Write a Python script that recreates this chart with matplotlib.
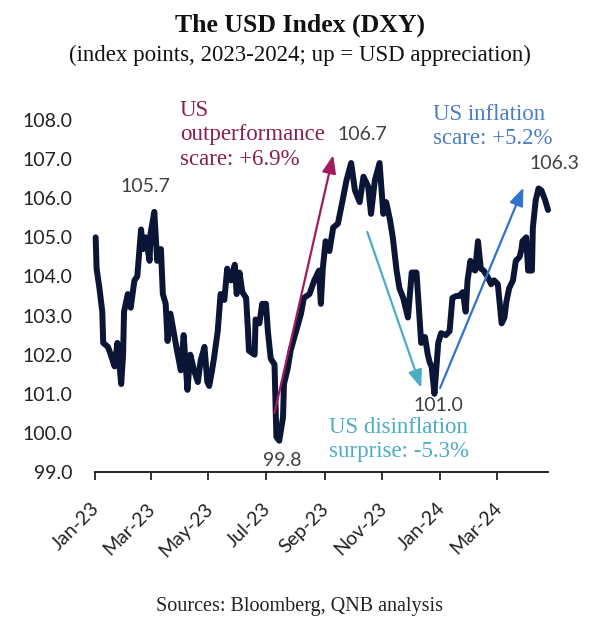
import matplotlib
matplotlib.use("Agg")
import matplotlib.pyplot as plt
import matplotlib.dates as mdates
from matplotlib.transforms import ScaledTranslation
import pandas as pd

# ---------------- data ----------------
dates = [
    "2023-01-02", "2023-01-03", "2023-01-06", "2023-01-09", "2023-01-10", "2023-01-15",
    "2023-01-18", "2023-01-22", "2023-01-25", "2023-01-29", "2023-01-31", "2023-02-01",
    "2023-02-05", "2023-02-08", "2023-02-12", "2023-02-15", "2023-02-19", "2023-02-21",
    "2023-02-24", "2023-02-28", "2023-03-01", "2023-03-05", "2023-03-08", "2023-03-12",
    "2023-03-14", "2023-03-17", "2023-03-19", "2023-03-22", "2023-03-26", "2023-03-29",
    "2023-04-02", "2023-04-05", "2023-04-09", "2023-04-12", "2023-04-16", "2023-04-20",
    "2023-04-23", "2023-04-27", "2023-04-30", "2023-05-02", "2023-05-05", "2023-05-07",
    "2023-05-11", "2023-05-14", "2023-05-18", "2023-05-21", "2023-05-25", "2023-05-29",
    "2023-05-31", "2023-06-03", "2023-06-06", "2023-06-10", "2023-06-12", "2023-06-13",
    "2023-06-19", "2023-06-20", "2023-06-24", "2023-06-27", "2023-07-01", "2023-07-03",
    "2023-07-06", "2023-07-10", "2023-07-12", "2023-07-15", "2023-07-19", "2023-07-20",
    "2023-07-24", "2023-07-27", "2023-07-31", "2023-08-03", "2023-08-07", "2023-08-10",
    "2023-08-16", "2023-08-21", "2023-08-26", "2023-08-28", "2023-08-30", "2023-09-02",
    "2023-09-06", "2023-09-10", "2023-09-15", "2023-09-20", "2023-09-24", "2023-09-29",
    "2023-10-03", "2023-10-08", "2023-10-12", "2023-10-17", "2023-10-20", "2023-10-24",
    "2023-10-29", "2023-11-02", "2023-11-05", "2023-11-09", "2023-11-12", "2023-11-16",
    "2023-11-19", "2023-11-23", "2023-11-28", "2023-12-02", "2023-12-07", "2023-12-09",
    "2023-12-12", "2023-12-16", "2023-12-19", "2023-12-21", "2023-12-23", "2023-12-26",
    "2023-12-30", "2024-01-02", "2024-01-07", "2024-01-11", "2024-01-14", "2024-01-18",
    "2024-01-21", "2024-01-25", "2024-01-28", "2024-01-30", "2024-02-02", "2024-02-04",
    "2024-02-07", "2024-02-10", "2024-02-13", "2024-02-16", "2024-02-20", "2024-02-24",
    "2024-02-27", "2024-03-02", "2024-03-06", "2024-03-09", "2024-03-11", "2024-03-14",
    "2024-03-18", "2024-03-21", "2024-03-25", "2024-03-27", "2024-03-28", "2024-04-01",
    "2024-04-03", "2024-04-07", "2024-04-08", "2024-04-11", "2024-04-14", "2024-04-17",
    "2024-04-21", "2024-04-24",
]
dxy = [
    105.0, 104.2, 103.7, 103.1, 102.3, 102.2,
    102.0, 101.7, 102.3, 101.25, 102.0, 103.1,
    103.55, 103.2, 103.9, 104.0, 105.2, 104.7,
    105.0, 104.4, 105.1, 105.65, 104.4, 104.7,
    103.55, 103.3, 102.35, 103.05, 102.5, 102.1,
    101.6, 102.5, 101.1, 102.0, 101.6, 101.3,
    101.85, 102.2, 101.3, 101.2, 101.6, 101.9,
    102.6, 103.55, 103.4, 104.2, 103.9, 104.3,
    103.55, 104.1, 103.6, 103.45, 102.6, 102.1,
    102.0, 102.9, 102.8, 103.3, 103.3, 102.6,
    101.9, 101.75, 99.9, 99.8, 100.4, 101.25,
    101.65, 102.1, 102.45, 102.7, 103.05, 103.45,
    103.55, 103.9, 104.15, 103.3, 104.2, 104.9,
    104.65, 105.25, 105.35, 105.95, 106.45, 106.9,
    106.2, 105.9, 106.55, 106.3, 105.6, 106.45,
    106.9, 105.6, 105.9, 105.45, 105.0, 104.15,
    103.7, 103.45, 102.95, 104.1, 104.1, 103.4,
    102.3, 102.45, 102.0, 101.8, 101.7, 101.0,
    102.3, 102.55, 102.5, 102.6, 103.45, 103.5,
    103.5, 103.6, 103.1, 103.9, 104.4, 104.2,
    104.15, 104.9, 104.2, 104.15, 104.0, 103.8,
    103.9, 103.8, 102.8, 102.95, 103.35, 103.7,
    103.9, 104.4, 104.5, 104.7, 104.9, 105.0,
    104.15, 104.15, 105.25, 105.95, 106.25, 106.2,
    105.95, 105.7,
]

tick_dates = ["2023-01-01", "2023-03-01", "2023-05-01", "2023-07-01",
              "2023-09-01", "2023-11-01", "2024-01-01", "2024-03-01"]
tick_labels = ["Jan-23", "Mar-23", "May-23", "Jul-23", "Sep-23", "Nov-23", "Jan-24", "Mar-24"]
y_ticks = [99.0, 100.0, 101.0, 102.0, 103.0, 104.0, 105.0, 106.0, 107.0, 108.0]

# value labels: (text, date, value)
point_labels = [("105.7", "2023-02-24", 106.29), ("99.8", "2023-07-18", 99.30),
                ("106.7", "2023-10-11", 107.62), ("101.0", "2023-12-30", 100.71),
                ("106.3", "2024-05-01", 106.90)]
# arrows: (tail date, tail value, head date, head value, colour)
arrows = [("2023-07-10", 100.51, "2023-09-10", 107.10, "#A11C5C"),
          ("2023-10-16", 105.14, "2023-12-12", 101.15, "#4BACC6"),
          ("2024-01-01", 101.15, "2024-03-29", 106.27, "#2F73CF")]
# notes: (text, date (left), value (centre), colour)
notes = [("US\noutperformance\nscare: +6.9%", "2023-04-01", 107.62, "#8A1E50"),
         ("US inflation\nscare: +5.2%", "2023-12-24", 107.83, "#4A7DC6"),
         ("US disinflation\nsurprise: -5.3%", "2023-09-06", 99.84, "#4BACC6")]

# ---------------- figure ----------------
W, H = 600, 631
fig = plt.figure(figsize=(W / 100, H / 100), dpi=100)
ax = fig.add_axes([94.7 / W, 1 - 472 / H, (548 - 94.7) / W, (472 - 120) / H])

x = pd.to_datetime(dates)
ax.plot(x, dxy, color="#0B1535", lw=4.3, solid_joinstyle="round",
        solid_capstyle="round", clip_on=False)

ax.set_xlim(pd.Timestamp("2023-01-01"), pd.Timestamp("2024-04-24"))
ax.set_ylim(99, 108)

for s in ["top", "right", "left"]:
    ax.spines[s].set_visible(False)
ax.spines["bottom"].set_linewidth(1.3)
ax.spines["bottom"].set_color("#111111")

ax.set_yticks(y_ticks)
ax.set_yticklabels([f"{v:.1f}" for v in y_ticks], fontfamily="Lato",
                   fontsize=14, color="#222222")
ax.tick_params(axis="y", length=0, pad=16)

ax.set_xticks(pd.to_datetime(tick_dates))
ax.set_xticklabels(tick_labels, fontfamily="Lato", fontsize=14, color="#222222",
                   rotation=45, ha="right", va="top", rotation_mode="anchor")
ax.tick_params(axis="x", direction="out", length=6, width=1.2, color="#111111", pad=14)
off = ScaledTranslation(-3 / 72, 0, fig.dpi_scale_trans)
for lab in ax.get_xticklabels():
    lab.set_transform(lab.get_transform() + off)

# value labels
for txt, d, v in point_labels:
    ax.text(pd.Timestamp(d), v, txt, ha="center", va="center", fontfamily="Lato",
            fontsize=14, color="#404040", clip_on=False)

# arrows
for d0, v0, d1, v1, c in arrows:
    ax.annotate("", xy=(pd.Timestamp(d1), v1), xytext=(pd.Timestamp(d0), v0),
                arrowprops=dict(arrowstyle="-|>,head_length=0.9,head_width=0.35",
                                color=c, lw=1.6, shrinkA=0, shrinkB=0,
                                mutation_scale=12),
                annotation_clip=False)

# notes
for txt, d, v, c in notes:
    ax.text(pd.Timestamp(d), v, txt, ha="left", va="center",
            fontfamily="Liberation Serif", fontsize=16.5, color=c,
            linespacing=1.2, clip_on=False)

# titles
fig.text(0.5, 1 - 25 / H, "The USD Index (DXY)", ha="center", va="center",
         fontfamily="Liberation Serif", fontweight="bold", fontsize=18.5, color="#111111")
fig.text(0.5, 1 - 55 / H, "(index points, 2023-2024; up = USD appreciation)",
         ha="center", va="center", fontfamily="Liberation Serif", fontsize=16.5,
         color="#111111")
fig.text(0.5, 1 - 607 / H, "Sources: Bloomberg, QNB analysis", ha="center", va="center",
         fontfamily="Liberation Serif", fontsize=14.5, color="#222222")

fig.savefig("out.png", dpi=100)
